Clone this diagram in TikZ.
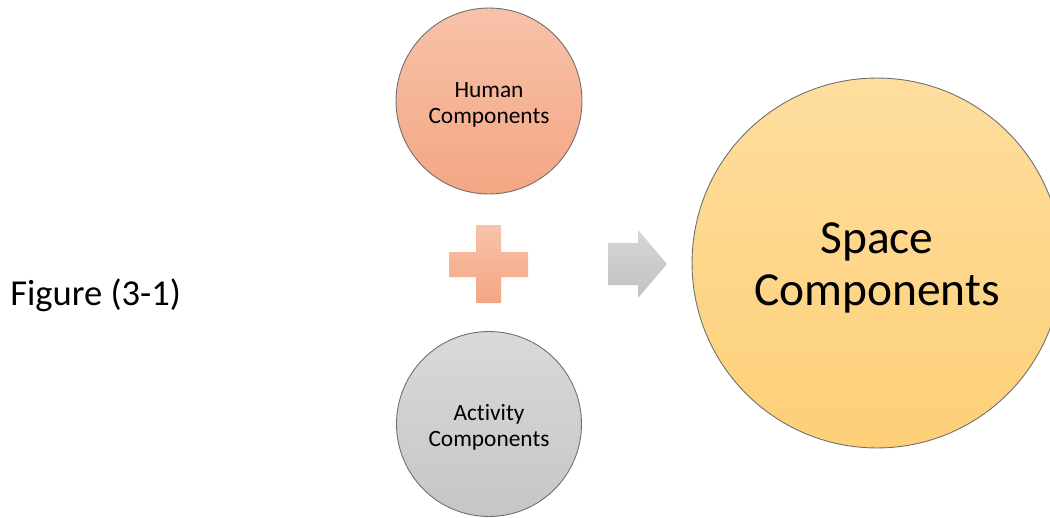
\documentclass[tikz,border=0pt]{standalone}
\usepackage{fontspec}
\setmainfont{Carlito}[Ligatures=NoCommon]
\begin{document}
\begin{tikzpicture}[x=0.02cm,y=-0.02cm]
\useasboundingbox (0,0) rectangle (1050,517);
\clip (0,0) rectangle (1050,517);
\definecolor{humtop}{HTML}{F8C2AA}
\definecolor{humbot}{HTML}{F4A683}
\definecolor{acttop}{HTML}{D9D9D9}
\definecolor{actbot}{HTML}{C6C6C6}
\definecolor{spatop}{HTML}{FEDD9E}
\definecolor{spabot}{HTML}{FDD078}
\definecolor{arrtop}{HTML}{D6D6D6}
\definecolor{arrbot}{HTML}{C2C2C2}
\definecolor{rim}{HTML}{6E6E6E}
\tikzset{
  bubble/.style={circle, draw=rim, line width=0.5pt, inner sep=0pt},
  smalltxt/.style={align=center, inner sep=0pt, font=\fontsize{13.3}{14.7}\selectfont},
  bigtxt/.style={align=center, inner sep=0pt, font=\fontsize{27}{29.5}\selectfont}
}
\node[bubble, minimum size=3.72cm, top color=humtop, bottom color=humbot] (human) at (489,101) {};
\node[bubble, minimum size=3.70cm, top color=acttop, bottom color=actbot] (activity) at (489,424) {};
\node[bubble, minimum size=7.40cm, top color=spatop, bottom color=spabot] (space) at (877,263) {};
\node[smalltxt] (humantxt) at (489,105) {Human\\Components};
\node[smalltxt] (activitytxt) at (489,427) {Activity\\Components};
\node[bigtxt] (spacetxt) at (877,268) {Space\\Components};
% plus sign
\shade[top color=humtop, bottom color=humbot]
  (476,225) -- (501,225) -- (501,252) -- (528,252) -- (528,277) -- (501,277)
  -- (501,303) -- (476,303) -- (476,277) -- (449,277) -- (449,252) -- (476,252) -- cycle;
% block arrow
\shade[top color=arrtop, bottom color=arrbot]
  (608,243) -- (638,243) -- (638,230) -- (667,264) -- (638,298) -- (638,285) -- (608,285) -- cycle;
\node[anchor=west, font=\fontsize{20.8}{24}\selectfont, inner sep=0pt] (fig) at (10,295) {Figure (3-1)};
\end{tikzpicture}
\end{document}
